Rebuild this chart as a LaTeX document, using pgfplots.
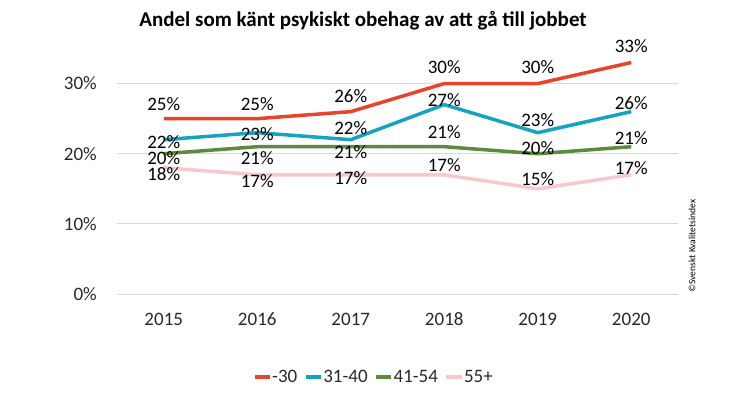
\documentclass[border=0pt]{standalone}
\usepackage{fontspec}
\setmainfont{Carlito}
\usepackage{pgfplots}
\usepackage{pgfplotstable}
\pgfplotsset{compat=1.18}
\definecolor{cRed}{RGB}{232,67,45}
\definecolor{cTeal}{RGB}{22,163,194}
\definecolor{cGreen}{RGB}{92,139,64}
\definecolor{cPink}{RGB}{250,199,205}
\definecolor{cGrid}{RGB}{217,217,217}
\definecolor{cTick}{RGB}{40,40,40}
% x y dy (label offset in pt, up positive)
\pgfplotstableread{
x y dy
0 25 15
1 25 15
2 26 16
3 30 16
4 30 16
5 33 16
}\tRed
\pgfplotstableread{
x y dy
0 22 -2
1 23 -1
2 22 12
3 27 5
4 23 13
5 26 9
}\tTeal
\pgfplotstableread{
x y dy
0 20 -4
1 21 -11
2 21 -5
3 21 15
4 20 6
5 21 9
}\tGreen
\pgfplotstableread{
x y dy
0 18 -6
1 17 -6
2 17 -3
3 17 10
4 15 10
5 17 7
}\tPink
\begin{document}
\begin{tikzpicture}
\path[use as bounding box] (0pt,0pt) rectangle (746pt,392pt);
\node[font=\fontsize{21}{24}\selectfont\bfseries, anchor=base] at (363pt,366pt) {Andel som känt psykiskt obehag av att gå till jobbet};
\node[font=\fontsize{9.6}{11}\selectfont, rotate=90, anchor=center] at (692pt,146pt) {©Svenskt Kvalitetsindex};
\begin{axis}[
  at={(117pt,98pt)}, anchor=south west,
  scale only axis, width=561pt, height=245.5pt,
  xmin=-0.5, xmax=5.5, ymin=0, ymax=35,
  xtick={0,1,2,3,4,5},
  xticklabels={2015,2016,2017,2018,2019,2020},
  ytick={0,10,20,30},
  yticklabel={\pgfmathprintnumber{\tick}\%},
  /pgf/number format/assume math mode=true,
  ymajorgrids, major grid style={cGrid, line width=1pt},
  axis line style={draw=none},
  tick style={draw=none},
  tick label style={font=\fontsize{19}{22}\selectfont, text=cTick},
  xticklabel style={anchor=center, yshift=-25pt},
  yticklabel style={anchor=east, inner sep=0pt, xshift=-20pt},
  clip=false,
  nodes near coords={\pgfmathprintnumber{\pgfplotspointmeta}\%},
  point meta=explicit,
  visualization depends on={\thisrow{dy} \as \dy},
  every node near coord/.append style={font=\fontsize{19}{22}\selectfont, text=black, anchor=center, yshift=\dy pt},
  legend style={draw=none, fill=none, at={(0.4563,-0.338)}, anchor=center, font=\fontsize{19}{22}\selectfont, text=cTick,
    nodes={inner xsep=0.5pt},
    /tikz/every even column/.append style={column sep=6pt}},
  legend columns=4,
  legend cell align=left,
  legend image code/.code={\draw[#1, line width=4pt] (0pt,0pt) -- (15pt,0pt);},
]
\addplot[cRed, line width=3.5pt] table[x=x, y=y, meta=y] {\tRed};
\addlegendentry{-30}
\addplot[cTeal, line width=3.5pt] table[x=x, y=y, meta=y] {\tTeal};
\addlegendentry{31-40}
\addplot[cGreen, line width=3.5pt] table[x=x, y=y, meta=y] {\tGreen};
\addlegendentry{41-54}
\addplot[cPink, line width=3.5pt] table[x=x, y=y, meta=y] {\tPink};
\addlegendentry{55+}
\end{axis}
\end{tikzpicture}
\end{document}
